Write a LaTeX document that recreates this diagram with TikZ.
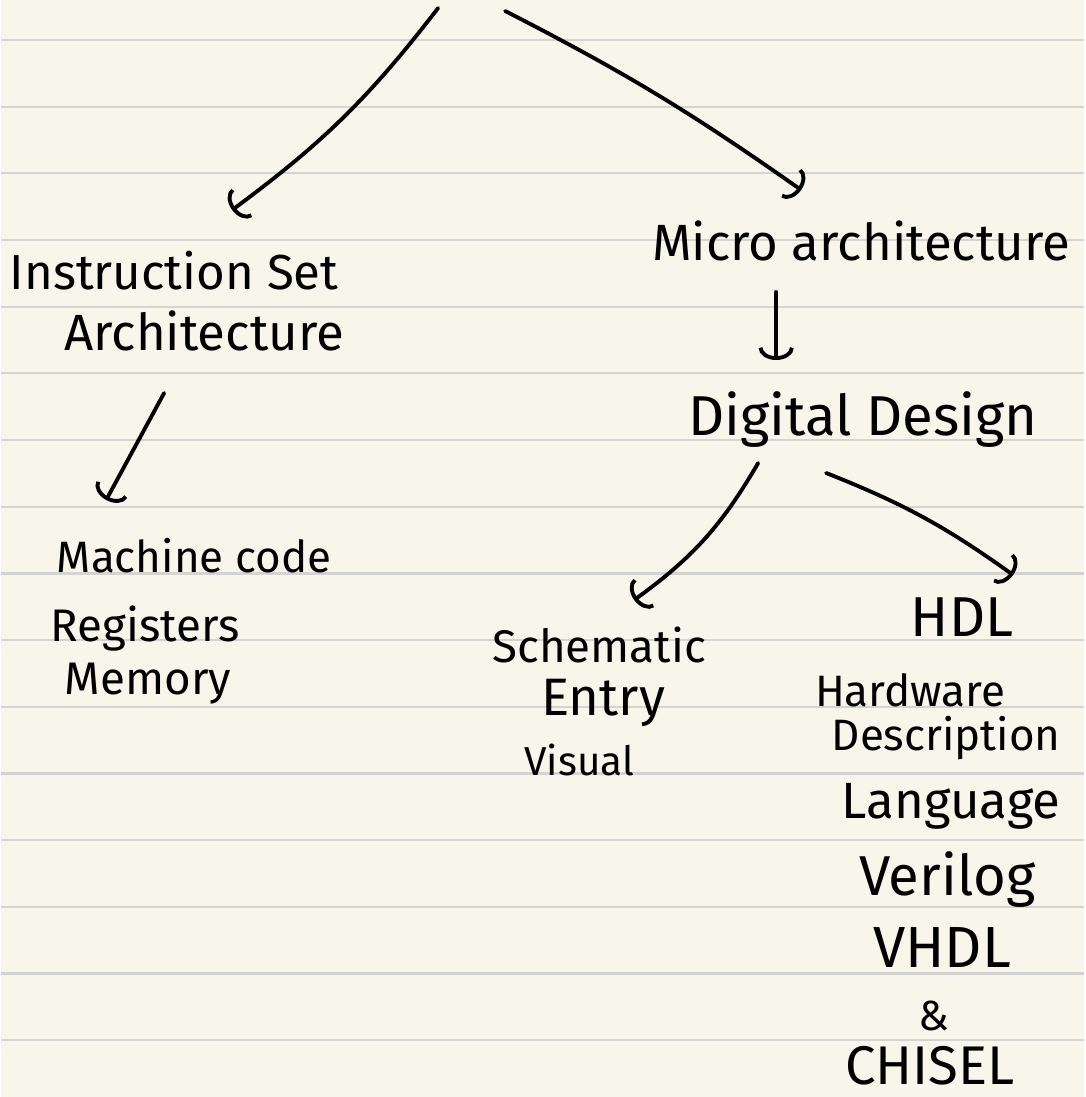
\documentclass[tikz,border=0pt]{standalone}
\usepackage{fontspec}
\setmainfont{Fira Sans}
\usetikzlibrary{arrows.meta, positioning, calc}

\definecolor{paper}{HTML}{F8F6EA}
\definecolor{ruled}{HTML}{D3D3D1}

\begin{document}
\begin{tikzpicture}[
    x=0.02cm, y=-0.02cm,
    note/.style={inner sep=0pt, font=\fontsize{#1}{#1}\selectfont},
    note/.default=29,
    pen/.style={line width=2.2pt, line cap=round, line join=round,
        -{Arc Barb[length=7pt, width=20pt]}}
]
    % lined paper
    \fill[paper] (0,0) rectangle (1083,1097);
    \foreach \k in {0,...,15}
        \draw[ruled, line width=1.3pt] (0,{40+66.67*\k}) -- (1083,{40+66.67*\k});
    \useasboundingbox (0,0) rectangle (1083,1097);

    % top split
    \coordinate (topL) at (437,8);
    \coordinate (topR) at (504,11);
    \node[note=28] (isa) at (173,271) {Instruction Set};
    \node[note] (arch) at (203,331) {Architecture};
    \node[note] (march) at (860,241) {Micro architecture};
    \draw[pen] (topL) to[bend left=8] ([shift={(58,-61)}]isa.center);
    \draw[pen] (topR) to[bend left=4] ([shift={(-60,-51)}]march.center);

    % ISA side
    \node[note=25] (mcode) at (193,556) {Machine code};
    \node[note=26] (regs) at (144,629) {Registers};
    \node[note=26] (mem) at (147,684) {Memory};
    \draw[pen] ([shift={(-40,62)}]arch.center) -- ([shift={(-88,-56)}]mcode.center);

    % microarchitecture side
    \node[note=32] (dd) at (862,420) {Digital Design};
    \draw[pen] ([shift={(-85,51)}]march.center) -- ([shift={(-87,-60)}]dd.center);

    \node[note=26] (schem) at (598,645) {Schematic};
    \node[note=30] (entry) at (602,703) {Entry};
    \node[note=23] (visual) at (578,760) {Visual};
    \node[note=32] (hdl) at (961,617) {HDL};
    \node[note=25] (hw) at (909,690) {Hardware};
    \node[note=25] (desc) at (945,738) {Description};
    \node[note] (lang) at (950,806) {Language};
    \node[note=32] (veri) at (946,880) {Verilog};
    \node[note=33] (vhdl) at (941,948) {VHDL};
    \node[note=24] (amp) at (933,1016) {\&};
    \node[note=31] (chisel) at (929,1066) {CHISEL};
    \draw[pen] ([shift={(-105,43)}]dd.center) to[bend left=12] ([shift={(35,-45)}]schem.center);
    \draw[pen] ([shift={(-37,53)}]dd.center) to[bend left=7] ([shift={(51,-42)}]hdl.center);
\end{tikzpicture}
\end{document}
